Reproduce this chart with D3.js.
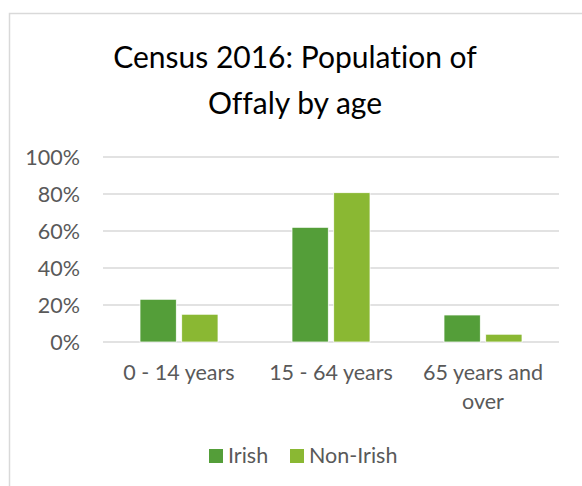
<!DOCTYPE html>
<html>
<head>
<meta charset="utf-8">
<script src="https://cdn.jsdelivr.net/npm/d3@7"></script>
<style>
  body { margin: 0; background: #fff; }
  text { font-family: Lato, "Open Sans", sans-serif; font-variant-ligatures: none; }
</style>
</head>
<body>
<div id="viz"></div>
<script>
// Chart data
const categories = ['0 - 14 years', '15 - 64 years', '65 years and over'];
const seriesNames = ['Irish', 'Non-Irish'];
const irish = [0.231, 0.620, 0.146];
const nonIrish = [0.150, 0.807, 0.042];
const yTicks = [0, 0.2, 0.4, 0.6, 0.8, 1.0];
const titleLines = ['Census 2016: Population of', 'Offaly by age'];

const colors = ['#549E39', '#8AB833'];
const width = 582, height = 486;

const svg = d3.select('#viz')
    .append('svg')
    .attr('width', width)
    .attr('height', height);

// chart frame
svg.append('rect')
    .attr('x', 9.5).attr('y', 13.5)
    .attr('width', 600).attr('height', 500)
    .attr('fill', '#fff')
    .attr('stroke', '#d9d9d9')
    .attr('stroke-width', 1.5);

// title
svg.append('text')
    .attr('text-anchor', 'middle')
    .attr('fill', '#000')
    .style('font-size', '30px')
    .selectAll('tspan')
    .data(titleLines)
    .enter()
    .append('tspan')
    .attr('x', 295)
    .attr('y', (d, i) => 68 + i * 46)
    .text(d => d);

const plot = { left: 103, right: 559, top: 157, bottom: 342 };

const x = d3.scaleBand()
    .domain(categories)
    .range([plot.left, plot.right]);

const x1 = d3.scaleBand()
    .domain(seriesNames)
    .range([0, 78])
    .paddingInner(0.13);

const y = d3.scaleLinear()
    .domain([0, 1])
    .range([plot.bottom, plot.top]);

// gridlines
svg.append('g')
    .selectAll('line')
    .data(yTicks)
    .enter()
    .append('line')
    .attr('x1', plot.left)
    .attr('x2', plot.right)
    .attr('y1', d => y(d))
    .attr('y2', d => y(d))
    .attr('stroke', '#d9d9d9')
    .attr('stroke-width', 1.5);

// y axis labels
const yAxis = svg.append('g')
    .attr('transform', `translate(${plot.left - 23},0)`)
    .call(d3.axisLeft(y).tickValues(yTicks).tickFormat(d3.format('.0%')).tickSize(0).tickPadding(0));
yAxis.select('.domain').remove();
yAxis.selectAll('text')
    .attr('fill', '#595959')
    .attr('dy', '0.35em')
    .style('font-size', '21.5px')
    .style('font-family', 'Lato, sans-serif');

// bars
const rows = categories.map((c, i) => ({ cat: c, values: [irish[i], nonIrish[i]] }));

const groups = svg.append('g')
    .selectAll('g')
    .data(rows)
    .enter()
    .append('g')
    .attr('transform', d => `translate(${x(d.cat) + x.bandwidth() / 2 - 39},0)`);

groups.selectAll('rect')
    .data(d => d.values.map((v, j) => ({ name: seriesNames[j], value: v, j })))
    .enter()
    .append('rect')
    .attr('x', d => x1(d.name))
    .attr('y', d => y(d.value))
    .attr('width', x1.bandwidth())
    .attr('height', d => y(0) - y(d.value))
    .attr('fill', d => colors[d.j])
    .attr('stroke', '#fff')
    .attr('stroke-width', 0.75);

// category labels (wrapped like excel)
const catLines = { '65 years and over': ['65 years and', 'over'] };
svg.append('g')
    .selectAll('text')
    .data(categories)
    .enter()
    .append('text')
    .attr('text-anchor', 'middle')
    .attr('fill', '#595959')
    .style('font-size', '21.5px')
    .each(function (d) {
        const lines = catLines[d] || [d];
        d3.select(this).selectAll('tspan')
            .data(lines)
            .enter()
            .append('tspan')
            .attr('x', x(d) + x.bandwidth() / 2)
            .attr('y', (l, i) => 380 + i * 29)
            .text(l => l);
    });

// legend
const legendItems = [
    { name: 'Irish', x: 209 },
    { name: 'Non-Irish', x: 290 }
];
const legend = svg.append('g')
    .selectAll('g')
    .data(legendItems)
    .enter()
    .append('g')
    .attr('transform', d => `translate(${d.x},449)`);
legend.append('rect')
    .attr('width', 14).attr('height', 14)
    .attr('fill', (d, i) => colors[i]);
legend.append('text')
    .attr('x', 19)
    .attr('y', 14)
    .attr('fill', '#595959')
    .style('font-size', '21.5px')
    .text(d => d.name);
</script>
</body>
</html>
